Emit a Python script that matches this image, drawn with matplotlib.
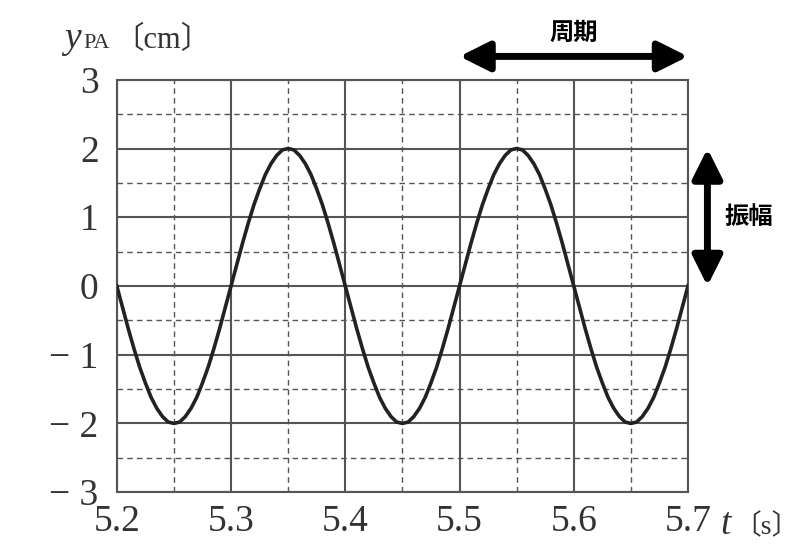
import numpy as np
import matplotlib.pyplot as plt

# displacement of point PA every 0.005 s
t_values = np.round(np.arange(5.200, 5.7025, 0.005), 3)
y_values = [
    0.00, -0.31, -0.62, -0.91, -1.18, -1.41, -1.62, -1.78, -1.90, -1.98,
    -2.00, -1.98, -1.90, -1.78, -1.62, -1.41, -1.18, -0.91, -0.62, -0.31,
    0.00, 0.31, 0.62, 0.91, 1.18, 1.41, 1.62, 1.78, 1.90, 1.98,
    2.00, 1.98, 1.90, 1.78, 1.62, 1.41, 1.18, 0.91, 0.62, 0.31,
    0.00, -0.31, -0.62, -0.91, -1.18, -1.41, -1.62, -1.78, -1.90, -1.98,
    -2.00, -1.98, -1.90, -1.78, -1.62, -1.41, -1.18, -0.91, -0.62, -0.31,
    0.00, 0.31, 0.62, 0.91, 1.18, 1.41, 1.62, 1.78, 1.90, 1.98,
    2.00, 1.98, 1.90, 1.78, 1.62, 1.41, 1.18, 0.91, 0.62, 0.31,
    0.00, -0.31, -0.62, -0.91, -1.18, -1.41, -1.62, -1.78, -1.90, -1.98,
    -2.00, -1.98, -1.90, -1.78, -1.62, -1.41, -1.18, -0.91, -0.62, -0.31,
    0.00,
]

x_ticks = [5.2, 5.3, 5.4, 5.5, 5.6, 5.7]
x_minor = [5.25, 5.35, 5.45, 5.55, 5.65]
y_ticks = [-3, -2, -1, 0, 1, 2, 3]
y_minor = [-2.5, -1.5, -0.5, 0.5, 1.5, 2.5]
y_tick_labels = ["− 3", "− 2", "− 1", "0", "1", "2", "3"]

period_start, period_end = 5.5, 5.7
amp_low, amp_high = 0, 2

serif = ["Liberation Serif", "Noto Sans CJK JP"]
grid_col = "#555555"
text_col = "#333333"

fig = plt.figure(figsize=(8, 5.58), dpi=100)
ax = fig.add_axes([0.146, 0.118, 0.714, 0.739])

ax.plot(t_values, y_values, color="#222222", lw=2.6, zorder=3)

ax.set_xlim(5.2, 5.7)
ax.set_ylim(-3, 3)
ax.set_xticks(x_ticks)
ax.set_xticks(x_minor, minor=True)
ax.set_yticks(y_ticks)
ax.set_yticks(y_minor, minor=True)
ax.set_xticklabels([f"{v:.1f}" for v in x_ticks])
ax.set_yticklabels(y_tick_labels)

ax.grid(which="major", color=grid_col, lw=1.5)
ax.grid(which="minor", color=grid_col, lw=1.0, ls=(0, (4, 3)))
ax.tick_params(which="both", length=0)
ax.tick_params(axis="x", pad=9)
ax.tick_params(axis="y", pad=13)
for lab in ax.get_xticklabels() + ax.get_yticklabels():
    lab.set_family(serif)
    lab.set_fontsize(27)
    lab.set_color(text_col)
for sp in ax.spines.values():
    sp.set_color(grid_col)
    sp.set_linewidth(1.5)

# axis labels
fig.text(64 / 800, 1 - 48 / 558, "y", family=serif, style="italic",
         fontsize=27, color=text_col, va="baseline")
fig.text(83 / 800, 1 - 48 / 558, "PA", family=serif, fontsize=16,
         color=text_col, va="baseline")
fig.text(113 / 800, 1 - 48 / 558, "〔cm〕", family=serif, fontsize=22,
         color=text_col, va="baseline")
fig.text(720 / 800, 1 - 534 / 558, "t", family=serif, style="italic",
         fontsize=27, color=text_col, va="baseline")
fig.text(799 / 800, 1 - 534 / 558, "〔s〕", family=serif, fontsize=20,
         color=text_col, va="baseline", ha="right")

# period and amplitude arrows
arrow_kw = dict(arrowstyle="<|-|>", color="black", lw=5,
                mutation_scale=45, shrinkA=0, shrinkB=0)
ax.annotate("", xy=(period_start, 3.34), xytext=(period_end, 3.34),
            arrowprops=arrow_kw, annotation_clip=False)
ax.text((period_start + period_end) / 2, 3.69, "周期",
        family="Noto Sans CJK JP", fontweight="bold", fontsize=17.5,
        ha="center", va="center", clip_on=False)
ax.annotate("", xy=(5.717, amp_low), xytext=(5.717, amp_high),
            arrowprops=arrow_kw, annotation_clip=False)
ax.text(5.753, (amp_low + amp_high) / 2, "振幅",
        family="Noto Sans CJK JP", fontweight="bold", fontsize=17.5,
        ha="center", va="center", clip_on=False)

fig.savefig("out.png", dpi=100)
